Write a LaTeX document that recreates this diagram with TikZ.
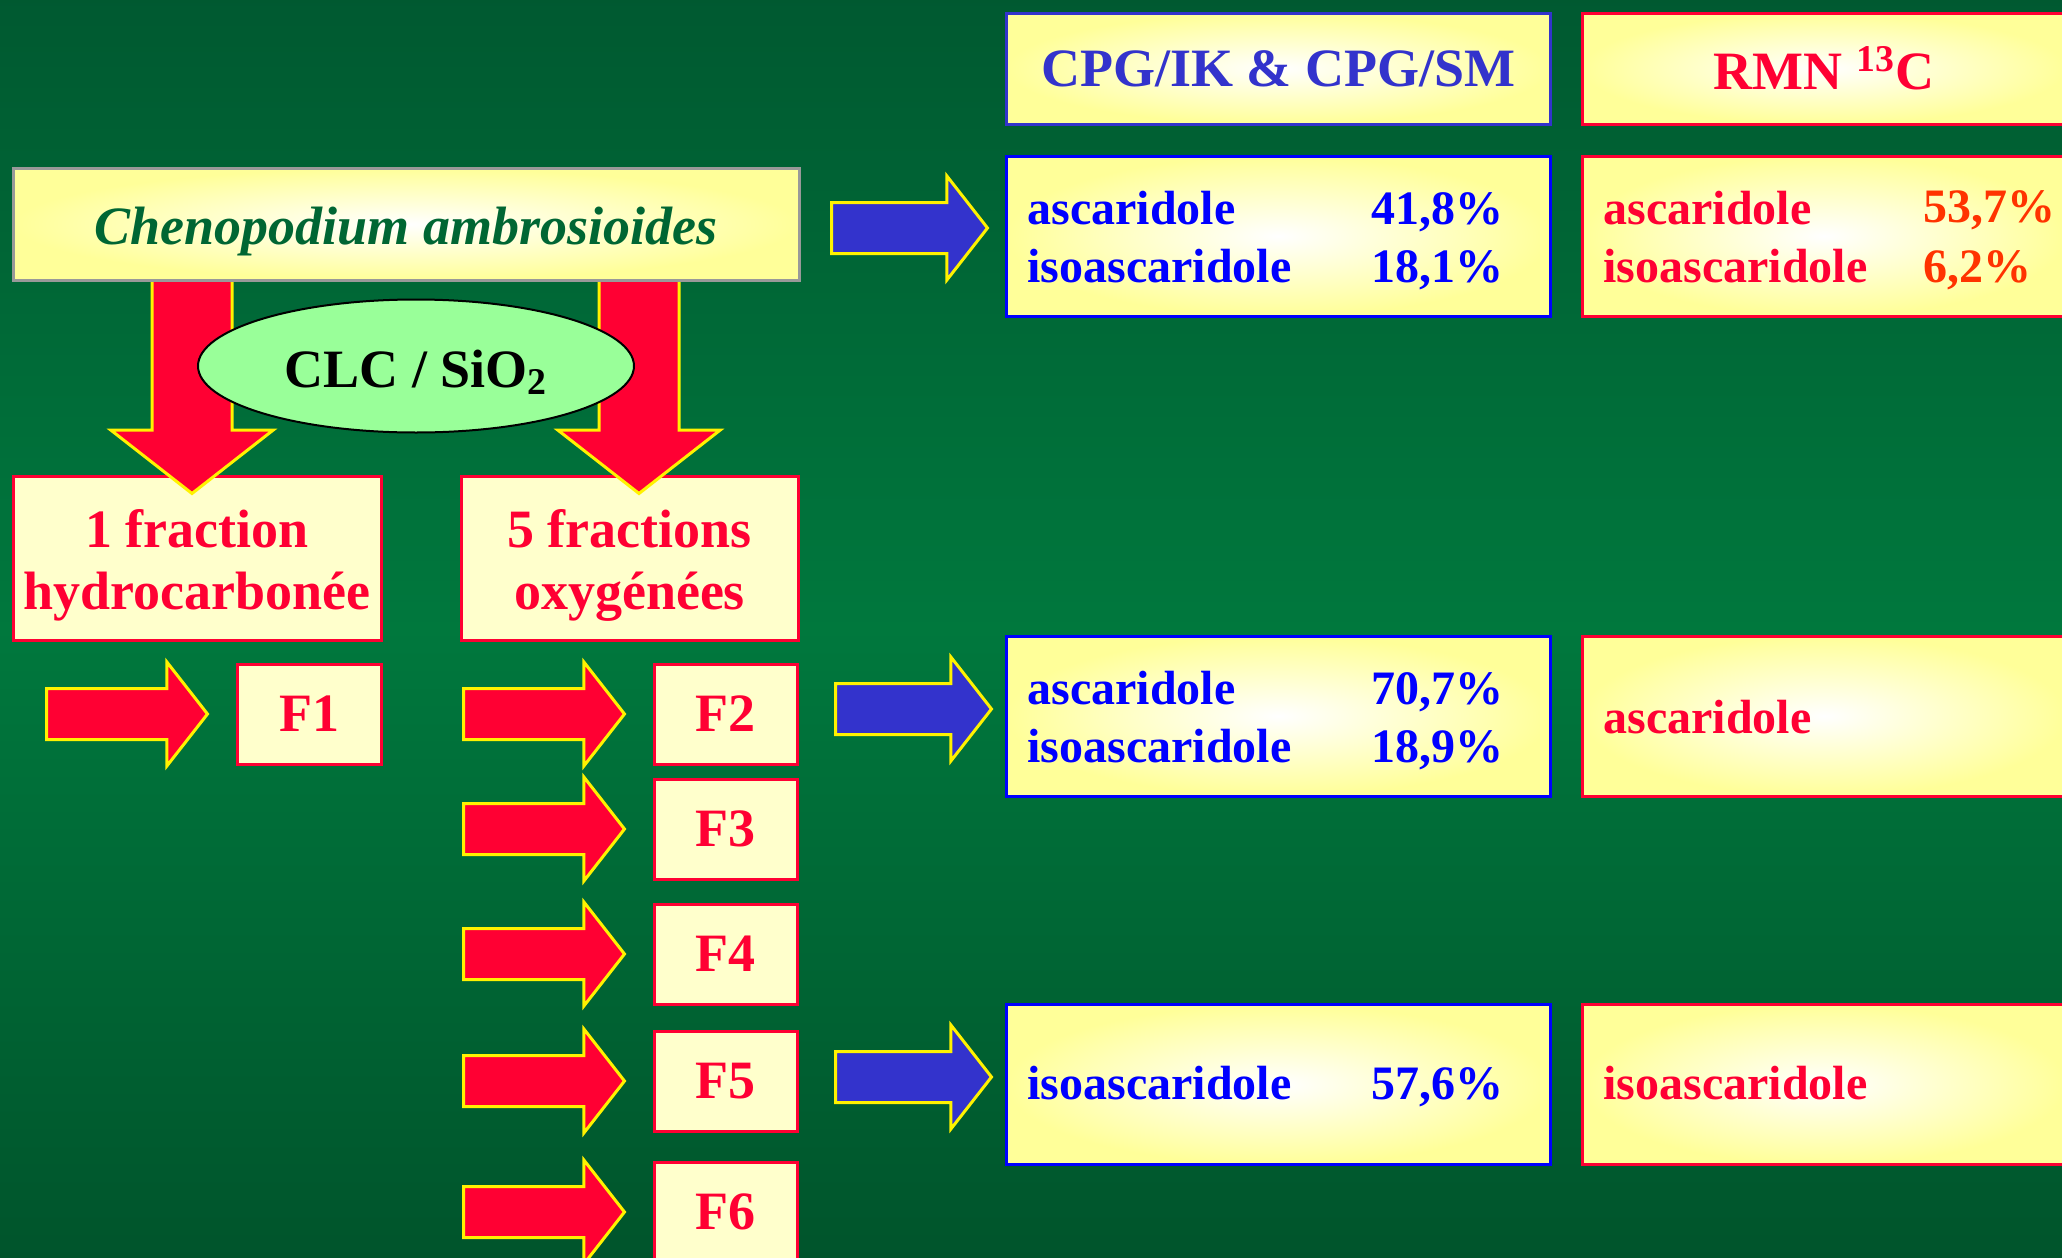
\documentclass[tikz,border=0pt]{standalone}
\usepackage{fontspec}
\setmainfont{Liberation Serif}
\usetikzlibrary{shapes.arrows}
\usetikzlibrary{shapes.geometric}
\usetikzlibrary{positioning}
\definecolor{mred}{rgb}{1, 0, 0.2}
\definecolor{mblue}{rgb}{0, 0, 1}
\definecolor{mviolet}{rgb}{0.2, 0.2, 0.8}
\definecolor{morange}{rgb}{1, 0.2, 0}
\definecolor{mgreen}{rgb}{0, 0.4, 0.2}
\definecolor{lgreen}{rgb}{0.6, 1, 0.6}
\definecolor{mgray}{rgb}{0.6, 0.6, 0.6}
\definecolor{myellow}{rgb}{1, 1, 0.6}
\definecolor{pyellow}{rgb}{1, 1, 0.8}
\definecolor{bgtop}{rgb}{0, 0.35, 0.19}
\definecolor{bgmid}{rgb}{0, 0.47, 0.24}
\definecolor{bgbot}{rgb}{0, 0.33, 0.17}
\tikzset{big/.style = {font=\bfseries\fontsize{27}{31}\selectfont}}
\tikzset{txt/.style = {font=\bfseries\fontsize{24}{28}\selectfont, anchor=base west, inner sep=0}}
\tikzset{glow/.style = {line width=1.5pt, inner color=white, outer color=myellow, inner sep=0}}
\tikzset{fbox/.style = {draw=mred, line width=1.5pt, fill=pyellow, text=mred, big, inner sep=0, align=center}}
\tikzset{redarrow/.style = {single arrow, draw=yellow, line width=1.5pt, fill=mred, single arrow tip angle=104,
                            single arrow head indent=0, inner xsep=0, anchor=tail}}
\tikzset{farrow/.style = {redarrow, minimum height=80.5pt, inner ysep=12pt, single arrow head extend=13.25pt}}
\tikzset{barrow/.style = {farrow, fill=mviolet, minimum height=78pt}}
\tikzset{darrow/.style = {redarrow, rotate=-90, minimum height=107.5pt, inner ysep=19.25pt, single arrow head extend=20.5pt}}
\tikzset{resbox/.style = {glow, minimum height=80pt}}

\begin{document}
\begin{tikzpicture}[x=0.5pt, y=-0.5pt]
  \useasboundingbox (0, 0) rectangle (2062, 1258);
  \clip (0, 0) rectangle (2062, 1258);
  \fill [top color=bgtop, bottom color=bgbot, middle color=bgmid] (0, 0) rectangle (2062, 1258);

  \node [fbox, text height=57.5pt, minimum width=184pt, minimum height=82pt] (hydro) at (197, 558) {1 fraction\\hydrocarbonée};
  \node [fbox, text height=57.5pt, minimum width=168.5pt, minimum height=82pt] (oxy) at (629.5, 558) {5 fractions\\oxygénées};

  \node [darrow] (dleft) at (192, 277) {};
  \node [darrow] (dright) at (639, 277) {};
  \node [ellipse, draw, line width=1pt, fill=lgreen, big, inner sep=0, text height=25pt, minimum width=218pt, minimum height=66.5pt] (clc) at (416, 366) {CLC / SiO\textsubscript{2}};
  \node [glow, draw=mgray, text=mgreen, big, text height=26pt, minimum width=393pt, minimum height=56pt] (plant) at (406, 224) {\itshape Chenopodium ambrosioides};

  \node [fbox, minimum width=72pt, minimum height=50pt] (f1) at (309, 714) {F1};
  \node [farrow] (af1) at (45, 714) {};
  \foreach \i/\y in {2/714, 3/829, 4/954, 5/1081, 6/1212} {
    \node [fbox, minimum width=71.5pt, minimum height=50pt] (f\i) at (725.5, \y) {F\i};
    \node [farrow] (af\i) at (462, \y) {};
  }

  \node [glow, draw=mviolet, text=mviolet, big, minimum width=272pt, minimum height=55.5pt] (cpg) at (1278, 68.5) {CPG/IK \& CPG/SM};
  \node [glow, draw=mred, text=mred, big, minimum width=242pt, minimum height=55.5pt] (rmn) at (1824, 68.5) {RMN \textsuperscript{13}C};

  \node [barrow] (ab1) at (830, 228) {};
  \node [barrow] (ab2) at (834, 709) {};
  \node [barrow] (ab3) at (834, 1077) {};

  \node [resbox, draw=mblue, minimum width=272pt] (cpgA) at (1278, 236) {};
  \node [resbox, draw=mblue, minimum width=272pt] (cpgB) at (1278, 716) {};
  \node [resbox, draw=mblue, minimum width=272pt] (cpgC) at (1278, 1084.5) {};
  \node [resbox, draw=mred, minimum width=242pt] (rmnA) at (1824, 236) {};
  \node [resbox, draw=mred, minimum width=242pt] (rmnB) at (1824, 716) {};
  \node [resbox, draw=mred, minimum width=242pt] (rmnC) at (1824, 1084.5) {};

  \node [txt, mblue] (asc1) at (1027, 224) {ascaridole};
  \node [txt, mblue] (iso1) at (1027, 282) {isoascaridole};
  \node [txt, mblue] (pasc1) at (1371, 224) {41,8\%};
  \node [txt, mblue] (piso1) at (1371, 282) {18,1\%};
  \node [txt, mblue] (asc2) at (1027, 704) {ascaridole};
  \node [txt, mblue] (iso2) at (1027, 762) {isoascaridole};
  \node [txt, mblue] (pasc2) at (1371, 704) {70,7\%};
  \node [txt, mblue] (piso2) at (1371, 762) {18,9\%};
  \node [txt, mblue] (iso3) at (1027, 1099) {isoascaridole};
  \node [txt, mblue] (piso3) at (1371, 1099) {57,6\%};

  \node [txt, mred] (rasc1) at (1603, 224) {ascaridole};
  \node [txt, mred] (riso1) at (1603, 282) {isoascaridole};
  \node [txt, morange] (rpasc1) at (1923, 222) {53,7\%};
  \node [txt, morange] (rpiso1) at (1923, 282) {6,2\%};
  \node [txt, mred] (rasc2) at (1603, 733) {ascaridole};
  \node [txt, mred] (riso3) at (1603, 1099) {isoascaridole};
\end{tikzpicture}
\end{document}
